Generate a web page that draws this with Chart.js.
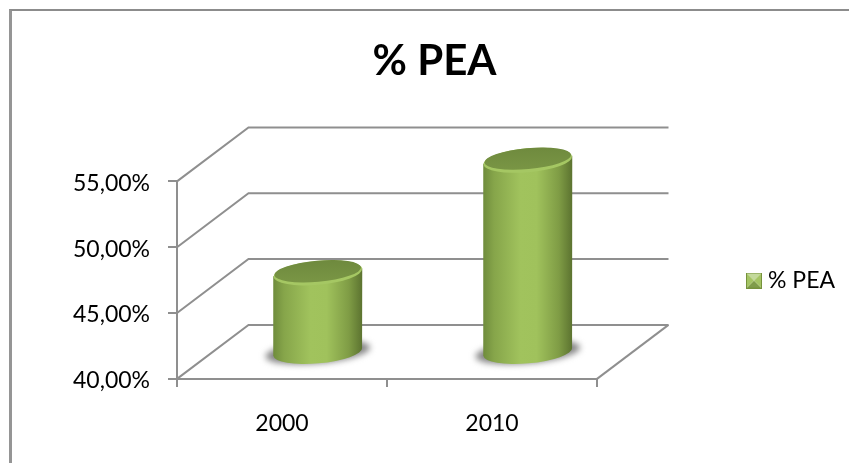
<!DOCTYPE html>
<html lang="en">
<head>
<meta charset="utf-8">
<title>% PEA</title>
<script src="https://cdn.jsdelivr.net/npm/chart.js@4"></script>
<style>
  html, body { margin: 0; padding: 0; background: #fff; }
  #wrap { position: relative; width: 849px; height: 463px; overflow: hidden; }
  #frame { position: absolute; left: 9px; top: 9px; width: 840px; height: 460px;
           border-left: 3px solid #959595; border-top: 2px solid #8c8c8c; box-sizing: border-box; }
  canvas { position: absolute; left: 0; top: 0; }
</style>
</head>
<body>
<div id="wrap">
  <div id="frame"></div>
  <canvas id="chart" width="849" height="463"></canvas>
</div>
<script>
const categories = ["2000", "2010"];
const seriesName = "% PEA";
const peaValues = [46.05, 54.6];
const axisMin = 40;
const axisMax = 55;
const axisStep = 5;

const FONT = "Lato, Carlito, sans-serif";
const LINE = "#8f8f8f";
// how far the back wall sits from the front of the box
const DEPTH_X = 71.5;
const DEPTH_Y = -54;

// small bevelled square for the legend
function legendIcon() {
  const c = document.createElement("canvas");
  c.width = 16;
  c.height = 16;
  const g = c.getContext("2d");
  const tri = (pts, col) => {
    g.fillStyle = col;
    g.beginPath();
    pts.forEach((p) => g.lineTo(p[0], p[1]));
    g.closePath();
    g.fill();
  };
  tri([[0, 0], [16, 0], [8, 8]], "#c3d99b");
  tri([[0, 16], [16, 16], [8, 8]], "#7f9c4a");
  tri([[0, 0], [0, 16], [8, 8]], "#a4c463");
  tri([[16, 0], [16, 16], [8, 8]], "#a4c463");
  g.strokeStyle = "#76923c";
  g.strokeRect(0.5, 0.5, 15, 15);
  return c;
}

function drawCylinder(ctx, bar, floorY) {
  const cx = bar.x + DEPTH_X / 2;
  const top = bar.y + DEPTH_Y / 2;
  // the bar base sits at zero, far under the axis minimum
  const base = floorY + DEPTH_Y / 2;
  const a = bar.width / 2;
  const b = 11.5;
  const tilt = -0.09;
  const dy = Math.sin(tilt) * a;

  // floor shadow
  ctx.save();
  ctx.filter = "blur(3px)";
  ctx.fillStyle = "#858585";
  ctx.beginPath();
  ctx.ellipse(cx, base, a + 8, b, tilt, 0, Math.PI * 2);
  ctx.fill();
  ctx.restore();

  // body
  const side = ctx.createLinearGradient(cx - a, 0, cx + a, 0);
  side.addColorStop(0, "#6f8c3c");
  side.addColorStop(0.12, "#86a54a");
  side.addColorStop(0.42, "#a1c35d");
  side.addColorStop(0.6, "#a0c25c");
  side.addColorStop(0.85, "#7f9c45");
  side.addColorStop(1, "#5c7330");
  ctx.fillStyle = side;
  ctx.beginPath();
  ctx.moveTo(cx - a, top - dy);
  ctx.lineTo(cx - a, base - dy);
  ctx.ellipse(cx, base, a, b, tilt, Math.PI, 0, true);
  ctx.lineTo(cx + a, top + dy);
  ctx.closePath();
  ctx.fill();

  // lit rim, then the top face
  ctx.fillStyle = "#a5c763";
  ctx.beginPath();
  ctx.ellipse(cx, top + 0.6, a, b + 0.5, tilt, 0, Math.PI * 2);
  ctx.fill();
  const face = ctx.createLinearGradient(0, top - b, 0, top + b);
  face.addColorStop(0, "#6f8a3e");
  face.addColorStop(1, "#7a9645");
  ctx.fillStyle = face;
  ctx.beginPath();
  ctx.ellipse(cx, top - 1, a - 1, b - 1, tilt, 0, Math.PI * 2);
  ctx.fill();
}

const box3d = {
  id: "box3d",
  afterLayout(chart) {
    // legend and title sit off the plot, as in the spreadsheet layout
    const lg = chart.legend;
    lg.left = 741.5;
    lg.right = 849;
    lg.top = 265;
    lg.bottom = 296;
    chart.titleBlock.left = 20;
    chart.titleBlock.right = 849;
  },
  beforeDatasetsDraw(chart) {
    const { ctx, chartArea, scales } = chart;
    const { left, right, bottom } = chartArea;
    ctx.save();
    ctx.strokeStyle = LINE;
    ctx.lineWidth = 2;
    scales.y.ticks.forEach((t) => {
      const y = scales.y.getPixelForValue(t.value);
      ctx.beginPath();
      ctx.moveTo(left, y);
      ctx.lineTo(left + DEPTH_X, y + DEPTH_Y);
      ctx.lineTo(right + DEPTH_X, y + DEPTH_Y);
      ctx.stroke();
    });
    ctx.beginPath();
    ctx.moveTo(right, bottom);
    ctx.lineTo(right + DEPTH_X, bottom + DEPTH_Y);
    ctx.stroke();
    ctx.restore();
  },
  beforeDatasetDraw(chart, args) {
    const { ctx, chartArea } = chart;
    args.meta.data.forEach((bar) => drawCylinder(ctx, bar, chartArea.bottom));
    return false;
  }
};

new Chart(document.getElementById("chart"), {
  type: "bar",
  plugins: [box3d],
  data: {
    labels: categories,
    datasets: [
      {
        label: seriesName,
        data: peaValues,
        backgroundColor: "#9bbb59",
        barPercentage: 89 / 210,
        categoryPercentage: 1
      }
    ]
  },
  options: {
    responsive: false,
    animation: false,
    events: [],
    layout: { padding: { left: 0, right: 252, top: 0, bottom: 2.5 } },
    plugins: {
      tooltip: { enabled: false },
      title: {
        display: true,
        text: "% PEA",
        color: "#000",
        font: { family: FONT, size: 42, weight: "bold" },
        padding: { top: 36, bottom: 95 }
      },
      legend: {
        position: "chartArea",
        labels: {
          color: "#000",
          font: { family: FONT, size: 23 },
          usePointStyle: true,
          pointStyle: legendIcon(),
          boxWidth: 5,
          padding: 10
        }
      }
    },
    scales: {
      x: {
        grid: { drawOnChartArea: false, color: LINE, lineWidth: 2, tickLength: 8 },
        border: { color: LINE, width: 2 },
        ticks: { color: "#000", font: { family: FONT, size: 23 }, padding: 23 }
      },
      y: {
        min: axisMin,
        max: axisMax,
        afterFit(scale) { scale.width = 177; },
        grid: { drawOnChartArea: false, color: LINE, lineWidth: 2, tickLength: 9 },
        border: { color: LINE, width: 2 },
        ticks: {
          stepSize: axisStep,
          color: "#000",
          padding: 18,
          labelOffset: 2,
          font: { family: FONT, size: 23 },
          callback: (v) => v.toFixed(2).replace(".", ",") + "%"
        }
      }
    }
  }
});
</script>
</body>
</html>
